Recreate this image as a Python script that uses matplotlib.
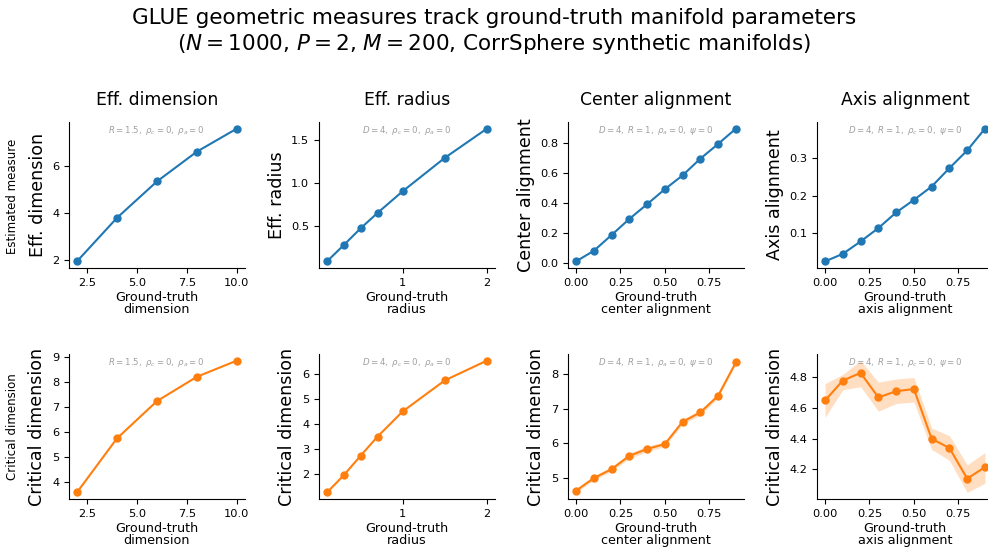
import matplotlib.pyplot as plt

# ground-truth parameter sweeps
dims = [2, 4, 6, 8, 10]
radii = [0.1, 0.3, 0.5, 0.7, 1.0, 1.5, 2.0]
center_align = [0.0, 0.1, 0.2, 0.3, 0.4, 0.5, 0.6, 0.7, 0.8, 0.9]
axis_align = [0.0, 0.1, 0.2, 0.3, 0.4, 0.5, 0.6, 0.7, 0.8, 0.9]

# estimated geometric measures (top row)
eff_dim = [1.95, 3.80, 5.35, 6.62, 7.60]
eff_radius = [0.095, 0.284, 0.477, 0.654, 0.905, 1.29, 1.627]
center_est = [0.012, 0.082, 0.187, 0.294, 0.392, 0.492, 0.584, 0.695, 0.793, 0.895]
axis_est = [0.025, 0.045, 0.078, 0.1135, 0.155, 0.1885, 0.224, 0.273, 0.32, 0.378]

# critical dimension (bottom row)
crit_dim = [3.57, 5.74, 7.24, 8.22, 8.87]
crit_radius = [1.28, 1.97, 2.75, 3.51, 4.52, 5.76, 6.55]
crit_center = [4.64, 5.00, 5.26, 5.64, 5.84, 5.98, 6.62, 6.89, 7.37, 8.33]
crit_center_err = [0.05, 0.06, 0.06, 0.08, 0.08, 0.07, 0.07, 0.08, 0.06, 0.05]
crit_axis = [4.65, 4.78, 4.83, 4.67, 4.71, 4.725, 4.40, 4.34, 4.14, 4.215]
crit_axis_lo = [4.54, 4.72, 4.74, 4.58, 4.63, 4.64, 4.33, 4.26, 4.05, 4.11]
crit_axis_hi = [4.76, 4.82, 4.91, 4.77, 4.79, 4.80, 4.47, 4.42, 4.23, 4.31]

col_titles = ['Eff. dimension', 'Eff. radius', 'Center alignment', 'Axis alignment']
xlabels = ['Ground-truth\ndimension', 'Ground-truth\nradius',
           'Ground-truth\ncenter alignment', 'Ground-truth\naxis alignment']
xtick_sets = [[2.5, 5.0, 7.5, 10.0], [1, 2],
              [0.0, 0.25, 0.5, 0.75], [0.0, 0.25, 0.5, 0.75]]
notes = [r'$R=1.5,\ \rho_c=0,\ \rho_a=0$',
         r'$D=4,\ \rho_c=0,\ \rho_a=0$',
         r'$D=4,\ R=1,\ \rho_a=0,\ \psi=0$',
         r'$D=4,\ R=1,\ \rho_c=0,\ \psi=0$']

xs = [dims, radii, center_align, axis_align]
top = [eff_dim, eff_radius, center_est, axis_est]
bottom = [crit_dim, crit_radius, crit_center, crit_axis]
bands = [None, None,
         ([c - e for c, e in zip(crit_center, crit_center_err)],
          [c + e for c, e in zip(crit_center, crit_center_err)]),
         (crit_axis_lo, crit_axis_hi)]

fig = plt.figure(figsize=(9.88, 5.5), dpi=100)
fig.suptitle('GLUE geometric measures track ground-truth manifold parameters\n'
             r'($N=1000$, $P=2$, $M=200$, CorrSphere synthetic manifolds)',
             fontsize=15.5, y=0.985, va='top')


def style(ax, i):
    ax.set_xlabel(xlabels[i], fontsize=9.2, labelpad=2, linespacing=0.98)
    ax.text(0.5, 0.985, notes[i], transform=ax.transAxes, ha='center', va='top',
            fontsize=6.2, color='gray', alpha=0.75)
    ax.set_xticks(xtick_sets[i])
    ax.tick_params(labelsize=8.2)
    ax.spines['top'].set_visible(False)
    ax.spines['right'].set_visible(False)


lefts = [0.0698, 0.3229, 0.5749, 0.827]
w = 0.178

for i in range(4):
    # top row
    ax = fig.add_axes([lefts[i], 0.5127, w, 0.2655])
    ax.plot(xs[i], top[i], '-o', color='tab:blue', lw=1.5, ms=5)
    ax.set_title(col_titles[i], fontsize=12.4, pad=12)
    ax.set_ylabel(col_titles[i], fontsize=12.6)
    style(ax, i)
    if i == 0:
        ax.set_yticks([2, 4, 6])

    # bottom row
    ax = fig.add_axes([lefts[i], 0.0927, w, 0.2636])
    if bands[i] is not None:
        ax.fill_between(xs[i], bands[i][0], bands[i][1], color='tab:orange',
                        alpha=0.25, lw=0)
    ax.plot(xs[i], bottom[i], '-o', color='tab:orange', lw=1.5, ms=5)
    ax.set_ylabel('Critical dimension', fontsize=12.6)
    style(ax, i)

fig.text(0.013, 1 - 196 / 550, 'Estimated measure', rotation=90,
         ha='center', va='center', fontsize=8.5)
fig.text(0.013, 1 - 427 / 550, 'Critical dimension', rotation=90,
         ha='center', va='center', fontsize=8.5)

fig.savefig('out.png', dpi=100)
